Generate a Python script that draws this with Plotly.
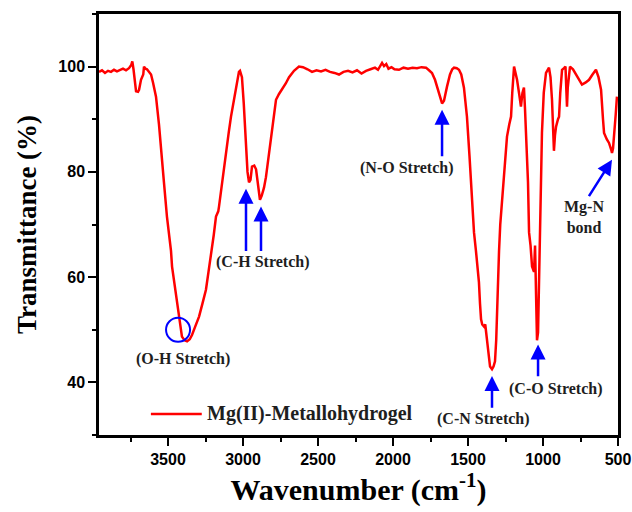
import plotly.graph_objects as go

wavenumber = [3960, 3940, 3920, 3900, 3880, 3860, 3840, 3820, 3800, 3780, 3760, 3745, 3738, 3730, 3720, 3713,
              3700, 3693, 3680, 3665, 3660, 3650, 3640, 3625, 3613, 3600, 3580, 3560, 3547, 3527, 3507, 3480,
              3473, 3447, 3427, 3407, 3390, 3373, 3355, 3340, 3320, 3293, 3270, 3247, 3230, 3213, 3195, 3180,
              3165, 3160, 3140, 3113, 3095, 3080, 3060, 3047, 3035, 3027, 3020, 3007, 2995, 2985, 2980, 2970,
              2960, 2950, 2940, 2925, 2913, 2900, 2887, 2875, 2860, 2847, 2830, 2813, 2795, 2780, 2760, 2740,
              2715, 2693, 2660, 2627, 2600, 2570, 2540, 2510, 2480, 2450, 2420, 2390, 2360, 2330, 2300, 2270,
              2240, 2210, 2180, 2150, 2120, 2100, 2085, 2073, 2060, 2045, 2030, 2010, 1990, 1960, 1930, 1900,
              1870, 1840, 1810, 1780, 1760, 1740, 1720, 1700, 1685, 1673, 1660, 1650, 1640, 1620, 1605, 1593,
              1575, 1560, 1545, 1527, 1507, 1490, 1480, 1470, 1460, 1447, 1437, 1427, 1420, 1413, 1405, 1393,
              1385, 1375, 1365, 1353, 1340, 1330, 1320, 1312, 1307, 1300, 1293, 1285, 1273, 1255, 1240, 1225,
              1213, 1205, 1193, 1185, 1173, 1160, 1147, 1137, 1127, 1120, 1107, 1100, 1093, 1083, 1073, 1060,
              1053, 1047, 1040, 1033, 1025, 1020, 1007, 995, 980, 960, 950, 940, 932, 927, 920, 913,
              900, 893, 885, 873, 860, 850, 845, 840, 835, 825, 820, 800, 780, 760, 740, 715,
              693, 670, 647, 630, 613, 600, 593, 575, 560, 545, 540, 533, 527, 515, 507]
transmittance = [99.0, 99.3, 98.8, 99.2, 99.0, 99.4, 99.1, 99.3, 99.6, 99.3, 99.7, 100.3, 101.0, 99.5, 97.0, 95.3,
                 95.2, 95.6, 97.5, 98.5, 100.0, 99.6, 99.5, 99.0, 98.5, 97.0, 94.3, 89.0, 84.0, 78.0, 71.5, 65.0,
                 62.0, 57.0, 52.5, 48.7, 48.0, 47.8, 48.2, 49.0, 50.5, 52.5, 55.0, 57.6, 61.0, 64.0, 68.0, 71.5,
                 72.5, 73.4, 78.0, 84.0, 87.5, 90.5, 93.5, 96.2, 98.0, 99.0, 99.2, 98.0, 93.0, 88.0, 83.7, 80.0,
                 78.0, 78.5, 81.0, 81.2, 80.5, 77.0, 74.7, 75.5, 77.0, 79.0, 82.5, 86.0, 90.0, 93.7, 94.8, 95.6,
                 96.8, 98.0, 99.2, 100.0, 99.9, 99.5, 99.0, 99.3, 99.1, 99.4, 99.0, 98.8, 98.5, 99.0, 99.2, 98.9,
                 99.3, 98.7, 99.2, 99.5, 99.8, 99.4, 100.3, 100.7, 100.1, 100.5, 99.6, 99.9, 99.5, 99.4, 99.8, 99.6,
                 99.8, 99.7, 99.9, 99.8, 99.3, 98.8, 97.5, 95.5, 93.8, 93.0, 93.5, 95.0, 96.2, 98.5, 99.5, 99.8,
                 99.7, 99.4, 98.5, 96.0, 90.5, 83.0, 78.0, 72.0, 68.5, 65.0, 62.0, 59.0, 55.0, 52.0, 51.0, 50.6,
                 51.0, 48.0, 46.0, 43.0, 42.5, 43.0, 44.0, 48.0, 53.8, 58.0, 65.0, 70.0, 74.7, 81.0, 86.7, 89.0,
                 90.5, 95.0, 100.0, 99.0, 97.5, 95.0, 92.4, 95.0, 96.0, 92.0, 84.0, 78.0, 68.5, 66.0, 62.0, 61.0,
                 66.0, 54.0, 48.0, 49.5, 62.0, 73.5, 87.4, 95.0, 98.8, 99.8, 98.0, 93.7, 88.0, 84.0, 87.0, 88.6,
                 90.0, 90.5, 95.0, 99.4, 99.7, 100.0, 96.0, 92.4, 96.0, 99.7, 100.0, 99.5, 98.5, 97.5, 96.6, 97.0,
                 97.5, 98.5, 99.4, 98.0, 95.6, 90.0, 87.4, 86.2, 85.5, 84.2, 83.6, 84.5, 87.4, 91.0, 94.3]

series_name = "Mg(II)-Metallohydrogel"
x_ticks = [3500, 3000, 2500, 2000, 1500, 1000, 500]
y_ticks = [40, 60, 80, 100]

# annotation labels: (text, x, y)
labels = [
    ("(C-H Stretch)", 2873, 62.8),
    ("(O-H Stretch)", 3400, 44.5),
    ("(N-O Stretch)", 1907, 80.7),
    ("(C-N Stretch)", 1400, 33.1),
    ("(C-O Stretch)", 920, 38.7),
    ("Mg-N<br>bond", 730, 71.4),
]
# arrows: (head_x, head_y, tail_x, tail_y)
arrows = [
    (2980, 76.8, 2980, 64.7),
    (2880, 73.4, 2880, 64.7),
    (1673, 91.8, 1673, 82.7),
    (1340, 41.2, 1340, 34.9),
    (1033, 47.2, 1033, 40.9),
    (540, 82.3, 700, 75.1),
]

serif = "Liberation Serif, Times New Roman, serif"
sans = "Liberation Sans, Arial, sans-serif"
txt_color = "#1e1e1e"

fig = go.Figure()
fig.add_trace(go.Scatter(x=wavenumber, y=transmittance, mode="lines", name=series_name,
                         line=dict(color="#ff0000", width=2.5), showlegend=False))

annotations = []
for t, x, y in labels:
    annotations.append(dict(text=t, x=x, y=y, xref="x", yref="y", showarrow=False,
                            font=dict(family=serif, size=16, color=txt_color, weight="bold")))
for hx, hy, tx, ty in arrows:
    annotations.append(dict(text="", x=hx, y=hy, ax=tx, ay=ty, xref="x", yref="y", axref="x", ayref="y",
                            showarrow=True, arrowhead=2, arrowsize=1.2, arrowwidth=2.5,
                            arrowcolor="#0000ff", standoff=0))
# manual legend
annotations.append(dict(text=series_name, x=0.204, y=0.05, xref="paper", yref="paper",
                        xanchor="left", yanchor="middle", showarrow=False,
                        font=dict(family=serif, size=20, color=txt_color, weight="bold")))

shapes = [
    dict(type="circle", xref="x", yref="y", x0=3513, x1=3353, y0=47.7, y1=52.3,
         line=dict(color="#0000ff", width=2)),
    dict(type="line", xref="paper", yref="paper", x0=0.100, x1=0.198, y0=0.05, y1=0.05,
         line=dict(color="#ff0000", width=2.5)),
]

fig.update_layout(
    width=632, height=512,
    margin=dict(l=99, r=14, t=14, b=77),
    paper_bgcolor="white", plot_bgcolor="white",
    annotations=annotations, shapes=shapes,
    xaxis=dict(range=[3960, 500], tickvals=x_ticks, ticktext=[str(v) for v in x_ticks],
               automargin=False,
               showline=True, linecolor="black", linewidth=2.5, mirror=True,
               ticks="outside", ticklen=8, tickwidth=2, tickcolor="black",
               minor=dict(dtick=250, tick0=500, ticks="outside", ticklen=4, tickwidth=2, tickcolor="black"),
               showgrid=False, zeroline=False,
               tickfont=dict(family=sans, size=16, color="black", weight="bold"),
               title=dict(text="Wavenumber (cm<sup>-1</sup>)", standoff=12,
                          font=dict(family=serif, size=30, color="black", weight="bold"))),
    yaxis=dict(range=[30, 110], tickvals=y_ticks, ticktext=[str(v) for v in y_ticks],
               automargin=False,
               showline=True, linecolor="black", linewidth=2.5, mirror=True,
               ticks="outside", ticklen=8, tickwidth=2, tickcolor="black",
               minor=dict(dtick=10, tick0=30, ticks="outside", ticklen=4, tickwidth=2, tickcolor="black"),
               showgrid=False, zeroline=False,
               tickfont=dict(family=sans, size=16, color="black", weight="bold"),
               title=dict(text="Transmittance (%)", standoff=14,
                          font=dict(family=serif, size=27, color="black", weight="bold"))),
)

fig.write_html("out.html")
